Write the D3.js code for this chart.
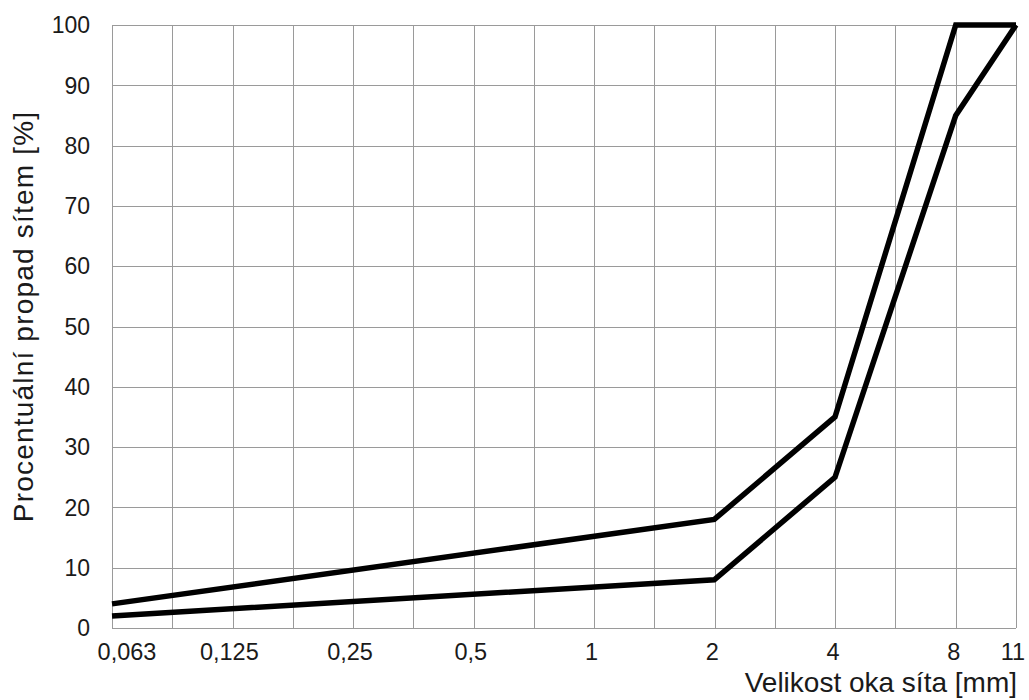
<!DOCTYPE html>
<html>
<head>
<meta charset="utf-8">
<script src="https://cdn.jsdelivr.net/npm/d3@7"></script>
<style>
  body { margin: 0; background: #fff; }
  text { font-family: "Liberation Sans", Arial, sans-serif; fill: #1a1a1a; }
</style>
</head>
<body>
<div id="chart"></div>
<script>
// sieve sizes [mm] and their axis labels
var sieveSizes = [0.063, 0.125, 0.25, 0.5, 1, 2, 4, 8, 11];
var sieveLabels = ["0,063", "0,125", "0,25", "0,5", "1", "2", "4", "8", "11"];

// grading envelope: points
var upperSizes = [0.063, 2, 4, 8, 11];
var upperValues = [4, 18, 35, 100, 100];
var lowerSizes = [0.063, 2, 4, 8, 11];
var lowerValues = [2, 8, 25, 85, 100];

var yTicks = [0, 10, 20, 30, 40, 50, 60, 70, 80, 90, 100];
var gridSlots = d3.range(16); // half-step vertical gridlines

var margin = {left: 112, right: 13, top: 25, bottom: 72};
var width = 1029 - margin.left - margin.right;
var height = 700 - margin.top - margin.bottom;

var svg = d3.select("#chart").append("svg")
    .attr("width", 1029)
    .attr("height", 700)
  .append("g")
    .attr("transform", "translate(" + margin.left + "," + margin.top + ")");

// log axis up to 8 mm, last interval (8 -> 11) is half a step wide
var xScale = d3.scaleLog()
  .domain([0.063, 8, 11])
  .range([0, width * 14 / 15, width]);
var slotScale = d3.scaleLinear()
  .domain([0, 15])
  .range([0, width]);
var yScale = d3.scaleLinear()
  .domain([0, 100])
  .range([height, 0]);

// gridlines
svg.append("g").selectAll("line.v")
  .data(gridSlots)
  .enter().append("line")
    .attr("x1", d => Math.round(slotScale(d)) + 0.5)
    .attr("x2", d => Math.round(slotScale(d)) + 0.5)
    .attr("y1", 0)
    .attr("y2", height)
    .attr("stroke", "#9a9a9a")
    .attr("stroke-width", 1);
svg.append("g").selectAll("line.h")
  .data(yTicks)
  .enter().append("line")
    .attr("x1", 0)
    .attr("x2", width)
    .attr("y1", d => Math.round(yScale(d)) + 0.5)
    .attr("y2", d => Math.round(yScale(d)) + 0.5)
    .attr("stroke", "#9a9a9a")
    .attr("stroke-width", 1);

// y tick labels
svg.append("g").selectAll("text")
  .data(yTicks)
  .enter().append("text")
    .attr("x", -22)
    .attr("y", d => yScale(d))
    .attr("dy", "0.36em")
    .attr("text-anchor", "end")
    .attr("font-size", 23)
    .text(d => d);

// x tick labels
svg.append("g").selectAll("text")
  .data(sieveSizes)
  .enter().append("text")
    .attr("x", (d, i) => xScale(d) + (i == 0 ? 15 : (i == sieveSizes.length - 1 ? -3 : -2)))
    .attr("y", height + 32)
    .attr("text-anchor", "middle")
    .attr("font-size", 23.5)
    .text((d, i) => sieveLabels[i]);

// axis titles
svg.append("text")
  .attr("x", width + 1)
  .attr("y", height + 64)
  .attr("text-anchor", "end")
  .attr("font-size", 28)
  .text("Velikost oka síta [mm]");
svg.append("text")
  .attr("transform", "translate(" + (-79) + "," + (height / 2 - 10) + ") rotate(-90)")
  .attr("text-anchor", "middle")
  .attr("font-size", 28)
  .attr("letter-spacing", 1.2)
  .text("Procentuální propad sítem [%]");

// curves
var line = d3.line()
  .x(d => xScale(d[0]))
  .y(d => yScale(d[1]));

[[upperSizes, upperValues], [lowerSizes, lowerValues]].forEach(function(s) {
  svg.append("path")
    .datum(d3.zip(s[0], s[1]))
    .attr("d", line)
    .attr("fill", "none")
    .attr("stroke", "#000")
    .attr("stroke-width", 5.5)
    .attr("stroke-linejoin", "miter");
});
</script>
</body>
</html>
